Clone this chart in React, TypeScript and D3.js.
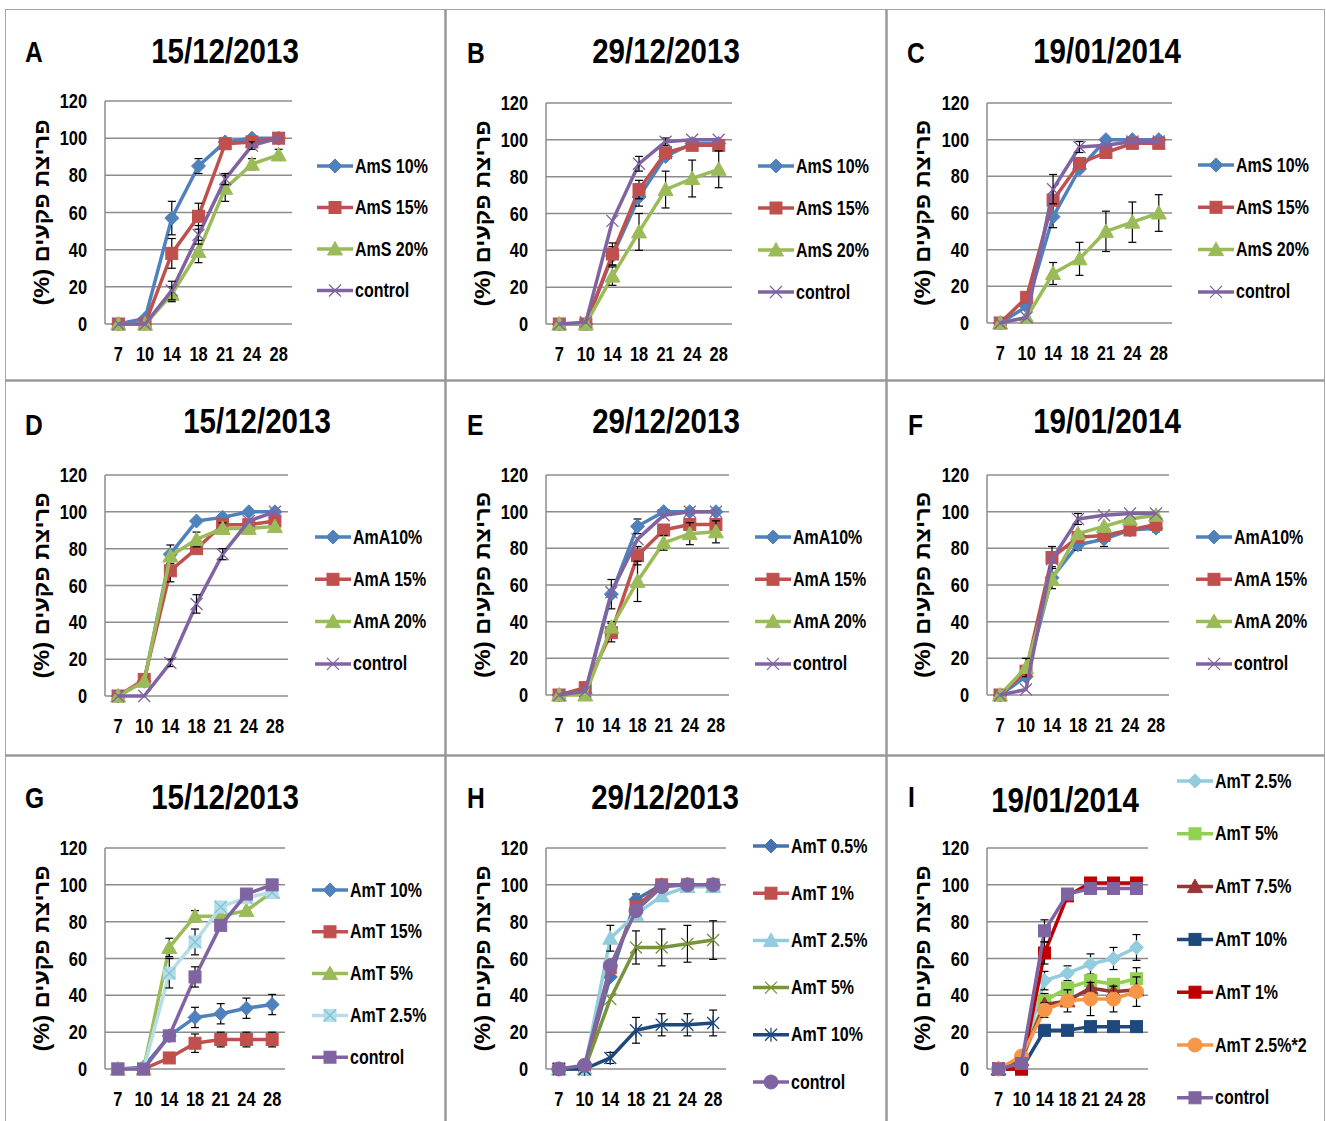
import React from "react";
import * as d3 from "d3";

const days = ["7", "10", "14", "18", "21", "24", "28"];
const yTicks = [0, 20, 40, 60, 80, 100, 120];
const yLabel = "פריצת פקעים (%)";

// panel A - 15/12/2013
const A_AmS10 = [0, 3, 57, 85, 98, 100, 100];
const A_AmS10_err = [0, 0, 9, 4, 0, 0, 0];
const A_AmS15 = [0, 0, 38, 58, 97, 98, 100];
const A_AmS15_err = [0, 0, 8, 7, 0, 0, 0];
const A_AmS20 = [0, 0, 16, 39, 73, 86, 91];
const A_AmS20_err = [0, 0, 4, 6, 7, 3, 3];
const A_control = [0, 0, 18, 48, 78, 96, 100];
const A_control_err = [0, 0, 5, 5, 3, 2, 0];

// panel B - 29/12/2013
const B_AmS10 = [0, 0, 37, 69, 91, 98, 98];
const B_AmS10_err = [0, 0, 5, 5, 0, 0, 0];
const B_AmS15 = [0, 0, 38, 73, 93, 97, 97];
const B_AmS15_err = [0, 0, 6, 5, 0, 0, 0];
const B_AmS20 = [0, 0, 26, 50, 73, 79, 84];
const B_AmS20_err = [0, 0, 5, 10, 10, 10, 10];
const B_control = [0, 1, 56, 87, 99, 100, 100];
const B_control_err = [0, 0, 0, 4, 2, 0, 0];

// panel C - 19/01/2014
const C_AmS10 = [0, 9, 58, 84, 100, 100, 100];
const C_AmS10_err = [0, 0, 6, 0, 0, 0, 0];
const C_AmS15 = [0, 14, 67, 87, 93, 98, 98];
const C_AmS15_err = [0, 0, 0, 3, 0, 0, 0];
const C_AmS20 = [0, 3, 27, 35, 50, 55, 60];
const C_AmS20_err = [0, 0, 6, 9, 11, 11, 10];
const C_control = [0, 3, 73, 96, 97, 99, 99];
const C_control_err = [0, 0, 8, 3, 0, 0, 0];

// panel D - 15/12/2013
const D_AmA10 = [0, 8, 77, 95, 97, 100, 100];
const D_AmA10_err = [0, 0, 5, 0, 0, 0, 0];
const D_AmA15 = [0, 9, 68, 80, 93, 93, 95];
const D_AmA15_err = [0, 0, 6, 0, 0, 0, 0];
const D_AmA20 = [0, 8, 76, 85, 91, 91, 92];
const D_AmA20_err = [0, 0, 0, 4, 3, 0, 0];
const D_control = [0, 0, 18, 50, 77, 95, 100];
const D_control_err = [0, 0, 2, 5, 3, 0, 0];

// panel E - 29/12/2013
const E_AmA10 = [0, 1, 55, 92, 100, 100, 100];
const E_AmA10_err = [0, 0, 8, 4, 0, 0, 0];
const E_AmA15 = [0, 4, 34, 76, 90, 93, 93];
const E_AmA15_err = [0, 0, 5, 5, 0, 0, 0];
const E_AmA20 = [0, 0, 37, 62, 83, 88, 89];
const E_AmA20_err = [0, 0, 3, 11, 4, 6, 6];
const E_control = [0, 2, 56, 85, 98, 100, 100];
const E_control_err = [0, 0, 0, 0, 0, 0, 0];

// panel F - 19/01/2014
const F_AmA10 = [0, 10, 64, 82, 85, 90, 91];
const F_AmA10_err = [0, 0, 6, 3, 4, 0, 2];
const F_AmA15 = [0, 13, 75, 86, 87, 90, 93];
const F_AmA15_err = [0, 0, 6, 0, 0, 0, 0];
const F_AmA20 = [0, 15, 63, 88, 92, 96, 98];
const F_AmA20_err = [0, 5, 0, 0, 0, 0, 0];
const F_control = [0, 3, 74, 96, 98, 99, 99];
const F_control_err = [0, 0, 0, 3, 0, 0, 0];

// panel G - 15/12/2013
const G_AmT10 = [0, 1, 18, 28, 30, 33, 35];
const G_AmT10_err = [0, 0, 0, 5.5, 5.5, 5.5, 5.5];
const G_AmT15 = [0, 0, 6, 14, 16, 16, 16];
const G_AmT15_err = [0, 0, 0, 5, 4, 4, 4];
const G_AmT5 = [0, 0, 66, 83, 83, 86, 96];
const G_AmT5_err = [0, 0, 5, 3, 0, 0, 0];
const G_AmT25 = [0, 0, 52, 69, 88, 93, 96];
const G_AmT25_err = [0, 0, 8, 7, 0, 0, 0];
const G_control = [0, 0, 18, 50, 78, 95, 100];
const G_control_err = [0, 0, 0, 5.5, 0, 0, 0];

// panel H - 29/12/2013
const H_AmT05 = [0, 1, 50, 92, 100, 100, 100];
const H_AmT05_err = [0, 0, 0, 3, 0, 0, 0];
const H_AmT1 = [0, 0, 55, 88, 100, 100, 100];
const H_AmT1_err = [0, 0, 0, 0, 0, 0, 0];
const H_AmT25 = [0, 0, 71, 84, 94, 99, 99];
const H_AmT25_err = [0, 0, 7, 0, 0, 0, 0];
const H_AmT5 = [0, 0, 38, 66, 66, 68, 70];
const H_AmT5_err = [0, 0, 0, 9, 10, 10, 10.5];
const H_AmT10 = [0, 0, 6, 21, 24, 24, 25];
const H_AmT10_err = [0, 0, 3, 7, 6, 6, 7];
const H_control = [0, 2, 56, 86, 99, 100, 100];
const H_control_err = [0, 0, 0, 0, 0, 0, 0];

// panel I - 19/01/2014
const I_AmT25 = [0, 5, 48, 52, 57, 60, 66];
const I_AmT25_err = [0, 0, 5, 4, 5.5, 6, 7];
const I_AmT5 = [0, 5, 37, 44, 48, 46, 49];
const I_AmT5_err = [0, 0, 4, 0, 0, 0, 6];
const I_AmT75 = [0, 5, 35, 37, 44, 42, 43];
const I_AmT75_err = [0, 0, 0, 0, 0, 0, 0];
const I_AmT10 = [0, 0, 21, 21, 23, 23, 23];
const I_AmT10_err = [0, 0, 0, 0, 0, 0, 0];
const I_AmT1 = [0, 0, 63, 94, 101, 101, 101];
const I_AmT1_err = [0, 0, 6, 0, 0, 0, 0];
const I_AmT25x2 = [0, 7, 32, 37, 38, 38, 42];
const I_AmT25x2_err = [0, 0, 4, 6, 9, 7, 8];
const I_control = [0, 3, 75, 95, 98, 98, 98];
const I_control_err = [0, 0, 6, 0, 0, 0, 0];

const FONT = "'Liberation Sans', Arial, sans-serif";
const NARROW = 0.82; // squeeze to look like a condensed face

const col = {
  blue: "#4F81BD",
  red: "#C0504D",
  green: "#9BBB59",
  purple: "#8064A2",
  ltblue: "#93CDDD",
  dkblue: "#4672AD",
  navy: "#1F497D",
  olive: "#77933C",
  lime: "#92D050",
  maroon: "#953735",
  crimson: "#C00000",
  orange: "#F79646",
};

const s = (name, values, err, color, marker) => ({ name, values, err, color, marker });

const panels = [
  {
    letter: "A", title: "15/12/2013", letterPos: [25, 62], titlePos: [225, 63], labelX: 41,
    box: { x0: 105, x1: 292, y0: 101, y1: 324 }, legend: { x: 317, y: 166, step: 41.5 },
    series: [
      s("AmS 10%", A_AmS10, A_AmS10_err, col.blue, "diamond"),
      s("AmS 15%", A_AmS15, A_AmS15_err, col.red, "square"),
      s("AmS 20%", A_AmS20, A_AmS20_err, col.green, "triangle"),
      s("control", A_control, A_control_err, col.purple, "x"),
    ],
  },
  {
    letter: "B", title: "29/12/2013", letterPos: [467, 63], titlePos: [666, 63], labelX: 482,
    box: { x0: 546, x1: 732, y0: 103, y1: 324 }, legend: { x: 758, y: 166, step: 42 },
    series: [
      s("AmS 10%", B_AmS10, B_AmS10_err, col.blue, "diamond"),
      s("AmS 15%", B_AmS15, B_AmS15_err, col.red, "square"),
      s("AmS 20%", B_AmS20, B_AmS20_err, col.green, "triangle"),
      s("control", B_control, B_control_err, col.purple, "x"),
    ],
  },
  {
    letter: "C", title: "19/01/2014", letterPos: [907, 63], titlePos: [1107, 63], labelX: 922,
    box: { x0: 987, x1: 1172, y0: 103, y1: 323 }, legend: { x: 1198, y: 165, step: 42.3 },
    series: [
      s("AmS 10%", C_AmS10, C_AmS10_err, col.blue, "diamond"),
      s("AmS 15%", C_AmS15, C_AmS15_err, col.red, "square"),
      s("AmS 20%", C_AmS20, C_AmS20_err, col.green, "triangle"),
      s("control", C_control, C_control_err, col.purple, "x"),
    ],
  },
  {
    letter: "D", title: "15/12/2013", letterPos: [25, 435], titlePos: [257, 433], labelX: 41,
    box: { x0: 105, x1: 288, y0: 475, y1: 696 }, legend: { x: 315, y: 537, step: 42.3 },
    series: [
      s("AmA10%", D_AmA10, D_AmA10_err, col.blue, "diamond"),
      s("AmA 15%", D_AmA15, D_AmA15_err, col.red, "square"),
      s("AmA 20%", D_AmA20, D_AmA20_err, col.green, "triangle"),
      s("control", D_control, D_control_err, col.purple, "x"),
    ],
  },
  {
    letter: "E", title: "29/12/2013", letterPos: [467, 435], titlePos: [666, 433], labelX: 482,
    box: { x0: 546, x1: 729, y0: 475, y1: 695 }, legend: { x: 755, y: 537, step: 42.3 },
    series: [
      s("AmA10%", E_AmA10, E_AmA10_err, col.blue, "diamond"),
      s("AmA 15%", E_AmA15, E_AmA15_err, col.red, "square"),
      s("AmA 20%", E_AmA20, E_AmA20_err, col.green, "triangle"),
      s("control", E_control, E_control_err, col.purple, "x"),
    ],
  },
  {
    letter: "F", title: "19/01/2014", letterPos: [908, 435], titlePos: [1107, 433], labelX: 922,
    box: { x0: 987, x1: 1169, y0: 475, y1: 695 }, legend: { x: 1196, y: 537, step: 42.3 },
    series: [
      s("AmA10%", F_AmA10, F_AmA10_err, col.blue, "diamond"),
      s("AmA 15%", F_AmA15, F_AmA15_err, col.red, "square"),
      s("AmA 20%", F_AmA20, F_AmA20_err, col.green, "triangle"),
      s("control", F_control, F_control_err, col.purple, "x"),
    ],
  },
  {
    letter: "G", title: "15/12/2013", letterPos: [25, 808], titlePos: [225, 809], labelX: 41,
    box: { x0: 105, x1: 285, y0: 848, y1: 1069 }, legend: { x: 312, y: 890, step: 41.8 },
    series: [
      s("AmT 10%", G_AmT10, G_AmT10_err, col.blue, "diamond"),
      s("AmT 15%", G_AmT15, G_AmT15_err, col.red, "square"),
      s("AmT 5%", G_AmT5, G_AmT5_err, col.green, "triangle"),
      s("AmT 2.5%", G_AmT25, G_AmT25_err, "#B7DEE8", "squarex"),
      s("control", G_control, G_control_err, col.purple, "square"),
    ],
  },
  {
    letter: "H", title: "29/12/2013", letterPos: [467, 808], titlePos: [665, 809], labelX: 482,
    box: { x0: 546, x1: 726, y0: 848, y1: 1069 }, legend: { x: 753, y: 846, step: 47.2 },
    series: [
      s("AmT 0.5%", H_AmT05, H_AmT05_err, col.dkblue, "diamond"),
      s("AmT 1%", H_AmT1, H_AmT1_err, col.red, "square"),
      s("AmT 2.5%", H_AmT25, H_AmT25_err, col.ltblue, "triangle"),
      s("AmT 5%", H_AmT5, H_AmT5_err, col.olive, "x"),
      s("AmT 10%", H_AmT10, H_AmT10_err, col.navy, "star"),
      s("control", H_control, H_control_err, col.purple, "circle"),
    ],
  },
  {
    letter: "I", title: "19/01/2014", letterPos: [908, 807], titlePos: [1065, 812], labelX: 922,
    box: { x0: 987, x1: 1148, y0: 848, y1: 1069 }, legend: { x: 1177, y: 781, step: 52.8 },
    series: [
      s("AmT 2.5%", I_AmT25, I_AmT25_err, col.ltblue, "diamond"),
      s("AmT 5%", I_AmT5, I_AmT5_err, col.lime, "square"),
      s("AmT 7.5%", I_AmT75, I_AmT75_err, col.maroon, "triangle"),
      s("AmT 10%", I_AmT10, I_AmT10_err, col.navy, "square"),
      s("AmT 1%", I_AmT1, I_AmT1_err, col.crimson, "square"),
      s("AmT 2.5%*2", I_AmT25x2, I_AmT25x2_err, col.orange, "circle"),
      s("control", I_control, I_control_err, col.purple, "square"),
    ],
  },
];

// condensed text: translate to the anchor, then squeeze horizontally
function NText({ x, y, size, anchor = "start", baseline = "auto", children }) {
  return (
    <text
      transform={`translate(${x},${y}) scale(${NARROW},1)`}
      textAnchor={anchor}
      dominantBaseline={baseline}
      fontSize={size}
    >
      {children}
    </text>
  );
}

function Marker({ type, x, y, color }) {
  const t = `translate(${x},${y})`;
  if (type === "diamond")
    return <path transform={t} d="M0,-7L7,0L0,7L-7,0Z" fill={color} stroke={color} />;
  if (type === "square")
    return <rect transform={t} x={-6} y={-6} width={12} height={12} fill={color} stroke={color} />;
  if (type === "squarex")
    return (
      <g transform={t}>
        <rect x={-6} y={-6} width={12} height={12} fill={color} stroke={color} />
        <path d="M-6,-6L6,6M6,-6L-6,6" stroke="#7FC6DA" strokeWidth={1.5} />
      </g>
    );
  if (type === "triangle")
    return <path transform={t} d="M0,-7.5L7.5,6L-7.5,6Z" fill={color} stroke={color} />;
  if (type === "circle") return <circle cx={x} cy={y} r={7} fill={color} stroke={color} />;
  if (type === "x")
    return <path transform={t} d="M-6,-6L6,6M6,-6L-6,6" stroke={color} strokeWidth={1.3} fill="none" />;
  if (type === "star")
    return <path transform={t} d="M-6,-6L6,6M6,-6L-6,6M0,-7L0,7" stroke={color} strokeWidth={1.3} fill="none" />;
  return null;
}

function Panel({ p }) {
  const { box } = p;
  const x = d3.scaleBand().domain(days).range([box.x0, box.x1]);
  const y = d3.scaleLinear().domain([0, 120]).range([box.y1, box.y0]);
  const cx = (d) => x(d) + x.bandwidth() / 2;
  const line = d3
    .line()
    .x((d, i) => cx(days[i]))
    .y((d) => y(d));
  const midY = (box.y0 + box.y1) / 2;

  return (
    <g>
      {/* grid + axes */}
      {yTicks.map((t) => (
        <line key={t} x1={box.x0} x2={box.x1} y1={y(t)} y2={y(t)} stroke="#8c8c8c" strokeWidth={1.5} />
      ))}
      <line x1={box.x0} x2={box.x0} y1={box.y0} y2={box.y1} stroke="#8c8c8c" strokeWidth={1.5} />
      {yTicks.map((t) => (
        <NText key={t} x={box.x0 - 18} y={y(t)} anchor="end" baseline="central" size={20}>
          {t}
        </NText>
      ))}
      {days.map((d) => (
        <NText key={d} x={cx(d)} y={box.y1 + 30} anchor="middle" baseline="central" size={20}>
          {d}
        </NText>
      ))}
      <text
        transform={`translate(${p.labelX},${midY}) rotate(-90)`}
        textAnchor="middle"
        dominantBaseline="central"
        fontSize={22}
        direction="rtl"
        textLength={186}
        lengthAdjust="spacingAndGlyphs"
      >
        {yLabel}
      </text>

      {/* series */}
      {p.series.map((sr) => (
        <g key={sr.name}>
          <path d={line(sr.values)} fill="none" stroke={sr.color} strokeWidth={3.5} strokeLinejoin="round" />
          {sr.values.map((v, i) =>
            sr.err[i] > 0 ? (
              <g key={i} stroke="#000" strokeWidth={1.2}>
                <line x1={cx(days[i])} x2={cx(days[i])} y1={y(v - sr.err[i])} y2={y(v + sr.err[i])} />
                <line x1={cx(days[i]) - 4} x2={cx(days[i]) + 4} y1={y(v - sr.err[i])} y2={y(v - sr.err[i])} />
                <line x1={cx(days[i]) - 4} x2={cx(days[i]) + 4} y1={y(v + sr.err[i])} y2={y(v + sr.err[i])} />
              </g>
            ) : null
          )}
          {sr.values.map((v, i) => (
            <Marker key={i} type={sr.marker} x={cx(days[i])} y={y(v)} color={sr.color} />
          ))}
        </g>
      ))}

      {/* legend */}
      {p.series.map((sr, i) => {
        const ly = p.legend.y + i * p.legend.step;
        return (
          <g key={sr.name}>
            <line x1={p.legend.x} x2={p.legend.x + 36} y1={ly} y2={ly} stroke={sr.color} strokeWidth={3.5} />
            <Marker type={sr.marker} x={p.legend.x + 18} y={ly} color={sr.color} />
            <NText x={p.legend.x + 38} y={ly} baseline="central" size={19.5}>
              {sr.name}
            </NText>
          </g>
        );
      })}

      {/* titles */}
      <NText x={p.letterPos[0]} y={p.letterPos[1]} size={30}>
        {p.letter}
      </NText>
      <NText x={p.titlePos[0]} y={p.titlePos[1]} anchor="middle" size={36}>
        {p.title}
      </NText>
    </g>
  );
}

export default function App() {
  return (
    <svg
      width={1326}
      height={1121}
      style={{ position: "absolute", left: 0, top: 0, background: "#fff" }}
      fontFamily={FONT}
      fontWeight="bold"
    >
      <rect x={0} y={0} width={1326} height={1121} fill="#fff" />
      <rect x={5.5} y={9.5} width={1319} height={1130} fill="none" stroke="#a6a6a6" strokeWidth={1} />
      <line x1={445.5} x2={445.5} y1={9} y2={1121} stroke="#999" strokeWidth={2.5} />
      <line x1={886.5} x2={886.5} y1={9} y2={1121} stroke="#999" strokeWidth={2.5} />
      <line x1={5} x2={1325} y1={380.5} y2={380.5} stroke="#999" strokeWidth={2.5} />
      <line x1={5} x2={1325} y1={755.5} y2={755.5} stroke="#999" strokeWidth={2.5} />
      {panels.map((p) => (
        <Panel key={p.letter} p={p} />
      ))}
    </svg>
  );
}
